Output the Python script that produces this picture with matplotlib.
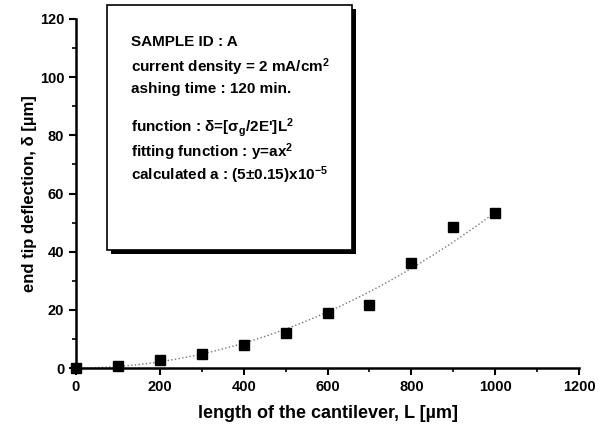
import numpy as np
import matplotlib
matplotlib.use('Agg')
import matplotlib.pyplot as plt
from matplotlib.patches import Rectangle

plt.rcParams['font.family'] = ['Liberation Sans', 'DejaVu Sans']
plt.rcParams['mathtext.fontset'] = 'custom'
plt.rcParams['mathtext.rm'] = 'Liberation Sans:bold'
plt.rcParams['mathtext.it'] = 'Liberation Sans:bold'
plt.rcParams['mathtext.bf'] = 'Liberation Sans:bold'
plt.rcParams['mathtext.default'] = 'bf'

# dados medidos
L = [0, 100, 200, 300, 400, 500, 600, 700, 800, 900, 1000]
delta = [0, 0.7, 2.7, 4.7, 7.8, 12.2, 19.0, 21.7, 36.0, 48.5, 53.2]

# curva ajustada y = a x^2
a_fit = 5.35e-5
L_fit = np.linspace(0, 1000, 200)

info = ["SAMPLE ID : A",
        "current density = 2 mA/cm$^2$",
        "ashing time : 120 min.",
        "",
        "function : \u03b4=[\u03c3$_g$/2E']L$^2$",
        "fitting function : y=ax$^2$",
        "calculated a : (5\u00b10.15)x10$^{-5}$"]

fig = plt.figure(figsize=(6.07, 4.29), dpi=100)
ax = fig.add_axes([76/607, 1-368/429, (579-76)/607, (368-19)/429])

ax.plot(L_fit, a_fit*L_fit**2, ':', color='#777777', lw=1)
ax.plot(L, delta, 's', color='black', ms=7, clip_on=False, zorder=5)

ax.set_xlim(0, 1200)
ax.set_ylim(0, 120)
ax.set_xticks(range(0, 1201, 200))
ax.set_xticks(range(100, 1200, 200), minor=True)
ax.set_yticks(range(0, 121, 20))
ax.set_yticks(range(10, 120, 20), minor=True)
for s in ['top', 'right']:
    ax.spines[s].set_visible(False)
for s in ['left', 'bottom']:
    ax.spines[s].set_linewidth(1.8)
ax.tick_params(which='major', direction='out', length=5, width=1.5, labelsize=10.5)
ax.tick_params(which='minor', direction='out', length=3, width=1.2)
for lb in ax.get_xticklabels() + ax.get_yticklabels():
    lb.set_fontweight('bold')

ax.set_xlabel('length of the cantilever, L [\u00b5m]', fontsize=13, fontweight='bold', labelpad=8)
ax.set_ylabel('end tip deflection, \u03b4 [\u00b5m]', fontsize=12, fontweight='bold', labelpad=2)

# caixa de texto com sombra
bx0, by0, bx1, by1 = 107/607, 1-250/429, 352/607, 1-5/429
fig.patches.append(Rectangle((bx0+4/607, by0-4/429), bx1-bx0, by1-by0,
                             transform=fig.transFigure, facecolor='black', edgecolor='none', zorder=1))
fig.patches.append(Rectangle((bx0, by0), bx1-bx0, by1-by0,
                             transform=fig.transFigure, facecolor='white', edgecolor='black', lw=1.2, zorder=2))

ys = [42, 67, 89, 113, 128, 152, 175]
for txt, yp in zip(info, ys):
    if txt:
        fig.text(131/607, 1-yp/429, txt, fontsize=11, fontweight='bold', va='center', ha='left', zorder=3)

fig.savefig('out.png', dpi=100)
